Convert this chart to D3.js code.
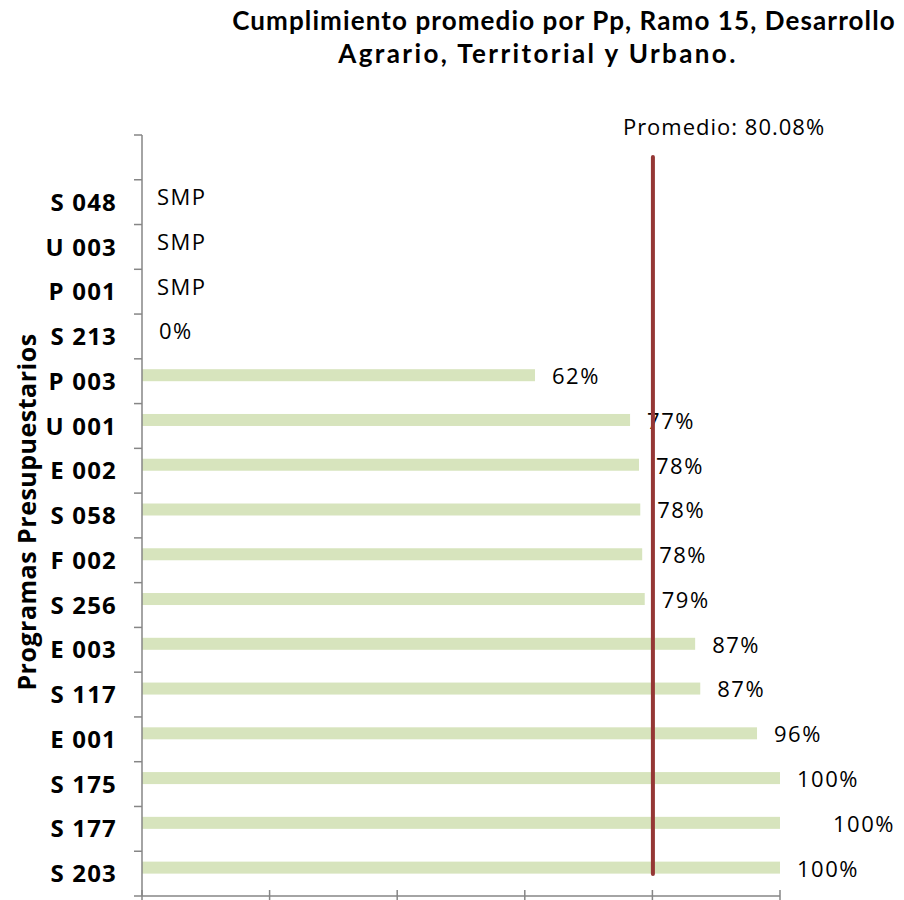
<!DOCTYPE html>
<html>
<head>
<meta charset="utf-8">
<script src="https://cdn.jsdelivr.net/npm/d3@7"></script>
<style>
  body { margin: 0; background: #fff; }
</style>
</head>
<body>
<div id="chart"></div>
<script>
// categories top to bottom (first slot is empty in the original)
const programas = ["", "S 048", "U 003", "P 001", "S 213", "P 003", "U 001", "E 002", "S 058",
  "F 002", "S 256", "E 003", "S 117", "E 001", "S 175", "S 177", "S 203"];
const cumplimiento = [null, null, null, null, 0, 61.6, 76.5, 77.9, 78.1,
  78.4, 78.8, 86.7, 87.5, 96.4, 100, 100, 100];
const etiquetas = ["", "SMP", "SMP", "SMP", "0%", "62%", "77%", "78%", "78%",
  "78%", "79%", "87%", "87%", "96%", "100%", "100%", "100%"];
const promedio = 80.08;
const xTicks = [0, 20, 40, 60, 80, 100];

const width = 904, height = 900;
const margin = {top: 135, left: 142, right: 124, bottom: 4};

const svg = d3.select("#chart").append("svg")
  .attr("width", width)
  .attr("height", height);

const x = d3.scaleLinear()
  .domain([0, 100])
  .range([margin.left, width - margin.right]);

const y = d3.scaleBand()
  .domain(programas)
  .range([margin.top, height - margin.bottom]);

// title
const titulo = [
  {t: "Cumplimiento promedio por Pp, Ramo 15, Desarrollo", cx: 564, by: 30, ls: 1.1},
  {t: "Agrario, Territorial y Urbano.", cx: 538, by: 63, ls: 2.4}
];
svg.append("g")
  .selectAll("text")
  .data(titulo)
  .enter().append("text")
    .attr("x", d => d.cx).attr("y", d => d.by)
    .attr("text-anchor", "middle")
    .style("font-family", "Lato, sans-serif")
    .style("font-weight", "bold")
    .style("font-size", "26px")
    .style("letter-spacing", d => d.ls + "px")
    .text(d => d.t);

// bars
const bh = 12;
const off = -6;
svg.append("g")
  .selectAll("rect")
  .data(programas.map((p, i) => ({p, v: cumplimiento[i]})).filter(d => d.v))
  .enter().append("rect")
    .attr("x", x(0))
    .attr("y", d => y(d.p) + y.bandwidth() / 2 - bh / 2 + off)
    .attr("width", d => x(d.v) - x(0))
    .attr("height", bh)
    .attr("fill", "#d7e4bd");

// value labels
svg.append("g")
  .selectAll("text")
  .data(programas.map((p, i) => ({p, v: cumplimiento[i], t: etiquetas[i]})).filter(d => d.t))
  .enter().append("text")
    .attr("x", d => (d.v ? x(d.v) : x(0)) + (d.p === "S 177" ? 53 : (d.v === null ? 15 : 17)))
    .attr("y", d => y(d.p) + y.bandwidth() / 2 + off + 1)
    .attr("dy", "0.36em")
    .style("font-family", "'Open Sans', sans-serif")
    .style("font-size", "22px")
    .style("letter-spacing", "1.5px")
    .attr("fill", "#000")
    .text(d => d.t);

// y axis
const yAxis = svg.append("g")
  .attr("transform", `translate(${margin.left},0)`);
yAxis.append("line")
  .attr("x1", 0).attr("x2", 0)
  .attr("y1", margin.top).attr("y2", height - margin.bottom)
  .attr("stroke", "#868686").attr("stroke-width", 1.5);
yAxis.selectAll("line.tick")
  .data(programas.map(p => y(p)).concat([height - margin.bottom]))
  .enter().append("line")
    .attr("class", "tick")
    .attr("x1", -8).attr("x2", 0)
    .attr("y1", d => d).attr("y2", d => d)
    .attr("stroke", "#868686").attr("stroke-width", 1.5);
yAxis.selectAll("text")
  .data(programas.filter(p => p))
  .enter().append("text")
    .attr("x", -25)
    .attr("y", d => y(d) + y.bandwidth() / 2)
    .attr("dy", "0.36em")
    .attr("text-anchor", "end")
    .style("font-family", "'Open Sans', sans-serif")
    .style("font-weight", "bold")
    .style("font-size", "24px")
    .style("letter-spacing", "1.2px")
    .text(d => d);

// x axis
const xAxis = svg.append("g");
xAxis.append("line")
  .attr("x1", x(0)).attr("x2", x(100))
  .attr("y1", height - margin.bottom).attr("y2", height - margin.bottom)
  .attr("stroke", "#868686").attr("stroke-width", 1.5);
xAxis.selectAll("line.tick")
  .data(xTicks)
  .enter().append("line")
    .attr("class", "tick")
    .attr("x1", d => x(d)).attr("x2", d => x(d))
    .attr("y1", height - margin.bottom - 6).attr("y2", height)
    .attr("stroke", "#868686").attr("stroke-width", 1.5);

// axis title
svg.append("text")
  .attr("transform", "translate(36,512) rotate(-90)")
  .attr("text-anchor", "middle")
  .style("font-family", "'Open Sans', sans-serif")
  .style("font-weight", "bold")
  .style("font-size", "25px")
  .style("letter-spacing", "0.5px")
  .text("Programas Presupuestarios");

// average line
svg.append("line")
  .attr("x1", x(promedio)).attr("x2", x(promedio))
  .attr("y1", 157).attr("y2", 874)
  .attr("stroke", "#953735")
  .attr("stroke-width", 4)
  .attr("stroke-linecap", "round");

svg.append("text")
  .attr("x", 724).attr("y", 127)
  .attr("dy", "0.36em")
  .attr("text-anchor", "middle")
  .style("font-family", "'Open Sans', sans-serif")
  .style("font-size", "22px")
  .style("letter-spacing", "1px")
  .text("Promedio: " + promedio.toFixed(2) + "%");
</script>
</body>
</html>
